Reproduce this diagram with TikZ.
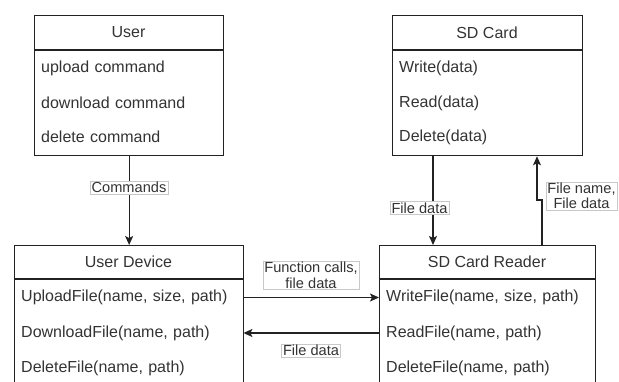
\documentclass[tikz,border=0pt]{standalone}
\usepackage{fontspec}
\setmainfont{Liberation Sans}
\usetikzlibrary{arrows.meta,calc}
\definecolor{ink}{HTML}{222222}
\definecolor{txt}{HTML}{333333}
\definecolor{lblborder}{HTML}{C8C8C8}
\begin{document}
\begin{tikzpicture}[x=1pt,y=-1pt,
  frame/.style={draw=ink, line width=1.3pt, inner sep=0pt, anchor=north west},
  divider/.style={draw=ink, line width=1.3pt},
  titletext/.style={text=txt, font=\fontsize{16}{19}\selectfont, inner sep=0pt},
  rowtext/.style={text=txt, font=\fontsize{16}{19}\selectfont, anchor=west, inner xsep=7pt, inner ysep=0pt, align=left},
  arr/.style={draw=ink, line width=1.3pt, -{Stealth[length=9pt,width=8pt,inset=2pt]}},
  lbl/.style={fill=white, draw=lblborder, line width=0.6pt, text=txt, font=\fontsize{14.6}{15.5}\selectfont, inner xsep=1.5pt, inner ysep=1pt, align=center}
]
\useasboundingbox (0,0) rectangle (619,381);
\clip (0,0) rectangle (619,381);

% User
\node[frame, minimum width=189pt, minimum height=140pt] (user) at (34,15) {};
\draw[divider] ([yshift=-35pt]user.north west) -- ([yshift=-35pt]user.north east);
\node[titletext] (usert) at (128.5,32.5) {User};
\node[rowtext, text width=175pt] (u1) at (34,68) {upload command};
\node[rowtext, text width=175pt] (u2) at (34,103) {download command};
\node[rowtext, text width=175pt] (u3) at (34,137) {delete command};

% SD Card
\node[frame, minimum width=190pt, minimum height=140pt] (sd) at (392,15) {};
\draw[divider] ([yshift=-35pt]sd.north west) -- ([yshift=-35pt]sd.north east);
\node[titletext] (sdt) at (487,32.5) {SD Card};
\node[rowtext, text width=176pt] (s1) at (392,68) {Write(data)};
\node[rowtext, text width=176pt] (s2) at (392,103) {Read(data)};
\node[rowtext, text width=176pt] (s3) at (392,137) {Delete(data)};

% User Device
\node[frame, minimum width=229pt, minimum height=170pt] (ud) at (14,245) {};
\draw[divider] ([yshift=-34pt]ud.north west) -- ([yshift=-34pt]ud.north east);
\node[titletext] (udt) at (128.5,262) {User Device};
\node[rowtext, text width=215pt] (d1) at (14,297.5) {UploadFile(name, size, path)};
\node[rowtext, text width=215pt] (d2) at (14,333) {DownloadFile(name, path)};
\node[rowtext, text width=215pt] (d3) at (14,368) {DeleteFile(name, path)};

% SD Card Reader
\node[frame, minimum width=216pt, minimum height=170pt] (rd) at (379,245) {};
\draw[divider] ([yshift=-34pt]rd.north west) -- ([yshift=-34pt]rd.north east);
\node[titletext] (rdt) at (487,262) {SD Card Reader};
\node[rowtext, text width=202pt] (r1) at (379,297.5) {WriteFile(name, size, path)};
\node[rowtext, text width=202pt] (r2) at (379,333) {ReadFile(name, path)};
\node[rowtext, text width=202pt] (r3) at (379,368) {DeleteFile(name, path)};

% connectors
\draw[arr] (user.south) -- (ud.north);
\node[lbl] (lcmd) at (129,187.5) {Commands};

\draw[arr] (d1.east) -- (r1.west);
\node[lbl] (lfc) at (311,275.5) {Function calls,\\file data};

\draw[arr] (r2.west) -- (d2.east);
\node[lbl] (lfd) at (311,350.5) {File data};

\draw[arr] ([xshift=41pt]sd.south west) -- ([xshift=54pt]rd.north west);
\node[lbl] (lfd2) at (419.5,208) {File data};

\draw[arr] ([xshift=163pt]rd.north west) -- ++(0,-45) -| ([xshift=145pt]sd.south west);
\node[lbl] (lfn) at (581.5,196) {File name,\\File data};
\end{tikzpicture}
\end{document}
